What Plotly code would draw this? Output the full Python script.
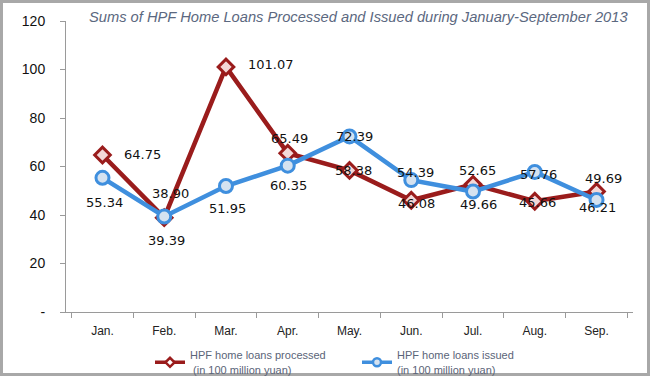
import plotly.graph_objects as go

months = ["Jan.", "Feb.", "Mar.", "Apr.", "May.", "Jun.", "Jul.", "Aug.", "Sep."]
processed = [64.75, 38.90, 101.07, 65.49, 58.38, 46.08, 52.65, 45.66, 49.69]
issued = [55.34, 39.39, 51.95, 60.35, 72.39, 54.39, 49.66, 57.76, 46.21]
y_tickvals = [0, 20, 40, 60, 80, 100, 120]
y_ticktext = ["-", "20", "40", "60", "80", "100", "120"]
title_text = "Sums of HPF Home Loans Processed and Issued during January-September 2013"
name_processed = "HPF home loans processed<br> (in 100 million yuan)"
name_issued = "HPF home loans issued<br>(in 100 million yuan)"

# label offsets in pixels (style only)
proc_shift = [(40, 0), (6, 24), (45, 2), (2, 15), (4, 0), (5, -3), (4, 14), (3, -1), (7, 13)]
iss_shift = [(2, -25), (2, -24), (2, -22), (1, -20), (5, 0), (4, 8), (5, -13), (4, -3), (1, -8)]

RED = "#9a1c1c"
BLUE = "#3f8fde"
RED_FILL = "#f3d8d8"
BLUE_FILL = "#d5e2f0"

W, H = 650, 376
L, R, T, B = 66, 17, 21, 64
pw, ph = W - L - R, H - T - B

fig = go.Figure()
fig.add_trace(go.Scatter(
    x=months, y=processed, mode="lines+markers", name=name_processed, showlegend=False,
    line=dict(color=RED, width=4.5),
    marker=dict(symbol="diamond", size=12, color=RED_FILL, line=dict(color=RED, width=3)),
))
fig.add_trace(go.Scatter(
    x=months, y=issued, mode="lines+markers", name=name_issued, showlegend=False,
    line=dict(color=BLUE, width=4.5),
    marker=dict(symbol="circle", size=13, color=BLUE_FILL, line=dict(color=BLUE, width=3)),
))
# legend-only entries with smaller symbols
fig.add_trace(go.Scatter(
    x=[None], y=[None], mode="lines+markers", name=name_processed,
    line=dict(color=RED, width=3.5),
    marker=dict(symbol="diamond", size=7, color="#ffffff", line=dict(color=RED, width=2.5)),
))
fig.add_trace(go.Scatter(
    x=[None], y=[None], mode="lines+markers", name=name_issued,
    line=dict(color=BLUE, width=3.5),
    marker=dict(symbol="circle", size=8, color=BLUE_FILL, line=dict(color=BLUE, width=2.5)),
))

ann = []
for m, v, (dx, dy) in zip(months, processed, proc_shift):
    ann.append(dict(x=m, y=v, text=f"{v:.2f}", showarrow=False, xshift=dx, yshift=dy,
                    font=dict(family="DejaVu Sans", size=13, color="#111111")))
for m, v, (dx, dy) in zip(months, issued, iss_shift):
    ann.append(dict(x=m, y=v, text=f"{v:.2f}", showarrow=False, xshift=dx, yshift=dy,
                    font=dict(family="DejaVu Sans", size=13, color="#111111")))
ann.append(dict(xref="paper", yref="paper", x=(358 - L) / pw, y=1 + (T - 17) / ph,
                text=title_text, showarrow=False, xanchor="center", yanchor="middle",
                font=dict(family="Liberation Sans", size=14.7, color="#5b6880", style="italic")))

fig.update_layout(
    width=W, height=H,
    margin=dict(l=L, r=R, t=T, b=B, autoexpand=False),
    paper_bgcolor="white", plot_bgcolor="white",
    showlegend=True,
    legend=dict(orientation="h", x=(150 - L) / pw, y=-(341.5 - (H - B)) / ph,
                xanchor="left", yanchor="top", traceorder="normal",
                font=dict(family="Liberation Sans", size=11, color="#5a6478"),
                entrywidth=162, entrywidthmode="pixels", bgcolor="rgba(0,0,0,0)",
                tracegroupgap=0),
    annotations=ann,
    shapes=[dict(type="rect", xref="paper", yref="paper",
                 x0=(1.5 - L) / pw, x1=(W - 1.5 - L) / pw,
                 y0=-(B - 1.5) / ph, y1=1 + (T - 1.5) / ph,
                 line=dict(color="#a8a8a8", width=3), layer="below")],
)
fig.update_xaxes(
    showgrid=False, showline=True, linecolor="#9a9a9a", linewidth=1,
    ticks="outside", tickson="boundaries", ticklen=5, tickcolor="#9a9a9a",
    tickfont=dict(family="Liberation Sans", size=12, color="#222222"),
    ticklabelstandoff=8, fixedrange=True, automargin=False,
)
fig.update_yaxes(
    range=[0, 120], tickvals=y_tickvals, ticktext=y_ticktext,
    showgrid=False, zeroline=False, showline=True, linecolor="#9a9a9a", linewidth=1,
    ticks="outside", ticklen=5, tickcolor="#9a9a9a",
    tickfont=dict(family="Liberation Sans", size=14, color="#111111"),
    ticklabelstandoff=12, fixedrange=True, automargin=False,
)

fig.write_html("out.html", config=dict(displayModeBar=False),
               post_script="document.body.style.margin='0';document.body.style.overflow='hidden';")
